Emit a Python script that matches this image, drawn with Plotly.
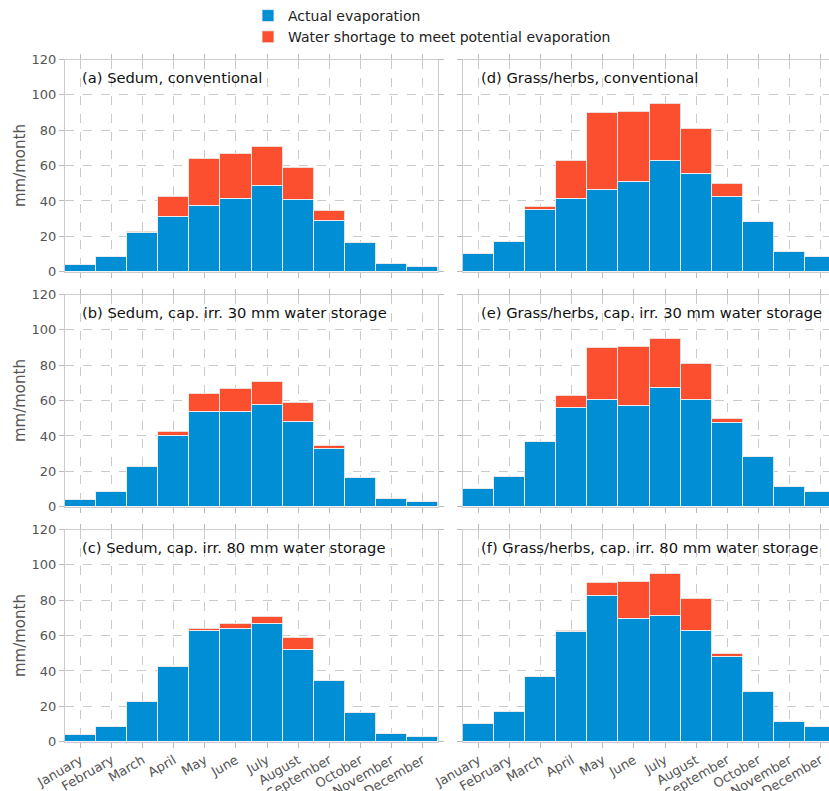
import plotly.graph_objects as go

months = ["January", "February", "March", "April", "May", "June", "July",
          "August", "September", "October", "November", "December"]

potential_sedum = [3.8, 8.5, 22.8, 42.6, 64.1, 66.9, 70.8, 59.2, 34.5, 16.4, 4.7, 2.8]
potential_grass = [10.4, 16.8, 37.1, 63.1, 90.2, 90.4, 95.1, 81.0, 50.1, 28.3, 11.3, 8.5]

actual_a = [3.8, 8.5, 22.0, 31.1, 37.7, 41.3, 48.6, 40.9, 29.2, 16.4, 4.7, 2.8]
actual_b = [3.8, 8.5, 22.6, 40.3, 53.7, 53.7, 58.0, 48.2, 33.0, 16.4, 4.7, 2.8]
actual_c = [3.8, 8.5, 22.8, 42.6, 63.0, 63.8, 66.8, 52.4, 34.5, 16.4, 4.7, 2.8]
actual_d = [10.4, 16.8, 35.4, 41.4, 46.5, 51.1, 62.7, 55.6, 42.6, 28.3, 11.3, 8.5]
actual_e = [10.4, 16.8, 37.1, 56.1, 60.5, 57.1, 67.3, 60.7, 47.7, 28.3, 11.3, 8.5]
actual_f = [10.4, 16.8, 37.1, 62.6, 82.5, 69.7, 71.4, 62.9, 48.0, 28.3, 11.3, 8.5]

panel_titles = ["(a) Sedum, conventional",
                "(b) Sedum, cap. irr. 30 mm water storage",
                "(c) Sedum, cap. irr. 80 mm water storage",
                "(d) Grass/herbs, conventional",
                "(e) Grass/herbs, cap. irr. 30 mm water storage",
                "(f) Grass/herbs, cap. irr. 80 mm water storage"]

y_ticks = [0, 20, 40, 60, 80, 100, 120]

BLUE = "#008fd5"
RED = "#fc4f30"
W, H = 829, 791
FONT = "DejaVu Sans"

panels = [
    (actual_a, potential_sedum, 0, 0),
    (actual_b, potential_sedum, 1, 0),
    (actual_c, potential_sedum, 2, 0),
    (actual_d, potential_grass, 0, 1),
    (actual_e, potential_grass, 1, 1),
    (actual_f, potential_grass, 2, 1),
]

# pixel geometry
col_x = [(65, 438), (463, 829)]
row_y = [(59.5, 271.7), (294.5, 506.7), (529.5, 741.7)]
px_per_month = (438 - 65) / 12.0

fig = go.Figure()
x_idx = list(range(12))

for i, (actual, potential, r, c) in enumerate(panels):
    n = i + 1
    xa = "x" if n == 1 else f"x{n}"
    ya = "y" if n == 1 else f"y{n}"
    shortage = [round(p - a, 2) for p, a in zip(potential, actual)]
    fig.add_trace(go.Bar(x=x_idx, y=actual, xaxis=xa, yaxis=ya,
                         marker=dict(color=BLUE, line=dict(color="rgba(235,235,235,0.9)", width=1)),
                         name="Actual evaporation", legendgroup="a", showlegend=(n == 1),
                         width=1.0))
    fig.add_trace(go.Bar(x=x_idx, y=shortage, xaxis=xa, yaxis=ya,
                         marker=dict(color=RED, line=dict(color="rgba(235,235,235,0.9)", width=1)),
                         name="Water shortage to meet potential evaporation", legendgroup="s",
                         showlegend=(n == 1), width=1.0))

    x0, x1 = col_x[c]
    y0, y1 = row_y[r]
    xr_end = -0.5 + (x1 - x0) / px_per_month
    axcommon = dict(showline=True, linecolor="#cccccc", linewidth=1, mirror="ticks",
                    ticks="outside", ticklen=5, tickcolor="#bbbbbb",
                    showgrid=True, gridcolor="#cbcbcb", griddash="dash", gridwidth=1,
                    zeroline=False, automargin=False,
                    tickfont=dict(family=FONT, size=13, color="#555555"))
    xkey = "xaxis" if n == 1 else f"xaxis{n}"
    ykey = "yaxis" if n == 1 else f"yaxis{n}"
    fig.layout[xkey] = dict(domain=[x0 / W, x1 / W], anchor=ya, range=[-0.5, xr_end],
                            tickmode="array", tickvals=x_idx,
                            ticktext=months if r == 2 else [""] * 12,
                            showticklabels=(r == 2), tickangle=-30, **axcommon)
    fig.layout[ykey] = dict(domain=[1 - y1 / H, 1 - y0 / H], anchor=xa, range=[0, 120],
                            tickmode="array", tickvals=y_ticks,
                            showticklabels=(c == 0),
                            title=dict(text="mm/month" if c == 0 else "",
                                       font=dict(family=FONT, size=15, color="#555555"),
                                       standoff=2),
                            **axcommon)
    tx = 80 if c == 0 else 479
    ty = y0 + 17.5
    fig.add_annotation(text=panel_titles[i], xref="paper", yref="paper",
                       x=tx / W, y=1 - ty / H, xanchor="left", yanchor="middle",
                       showarrow=False, font=dict(family=FONT, size=14.7, color="#111111"))

fig.update_layout(
    width=W, height=H, barmode="stack", bargap=0,
    margin=dict(l=0, r=0, t=0, b=0),
    paper_bgcolor="white", plot_bgcolor="white",
    font=dict(family=FONT, color="#222222"),
    legend=dict(x=248 / W, y=1 - 0 / H, xanchor="left", yanchor="top",
                font=dict(family=FONT, size=14, color="#222222"),
                bgcolor="rgba(0,0,0,0)", tracegroupgap=0, itemwidth=30),
)

fig.write_html("out.html", config={"displayModeBar": False},
               post_script="document.body.style.margin='0';document.body.style.overflow='hidden';")
